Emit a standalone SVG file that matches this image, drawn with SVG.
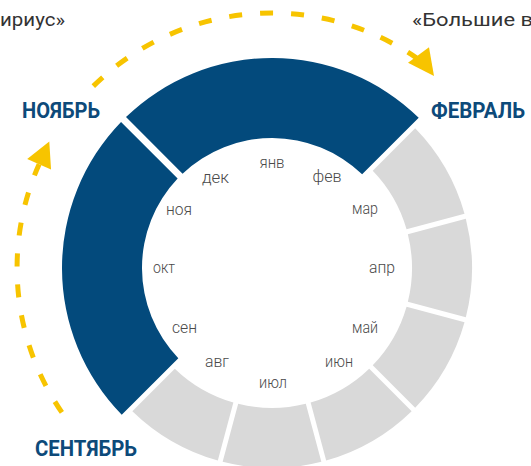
<svg xmlns="http://www.w3.org/2000/svg" width="531" height="466" viewBox="0 0 531 466">
  <style>
    .blue { fill: #034a7c; }
    .gray { fill: #d9d9d9; }
    .month { font-family: Roboto, "Noto Sans", sans-serif; font-weight: 300; font-size: 17px; fill: #4a4a4a; text-anchor: middle; }
    .season { font-family: Roboto, "Noto Sans", sans-serif; font-weight: 700; font-size: 22px; fill: #0d4a7a; }
    .caption { font-family: Roboto, "Noto Sans", sans-serif; font-weight: 400; font-size: 19px; fill: #333333; }
    .dash { fill: none; stroke: #f7c400; stroke-width: 5; stroke-dasharray: 13 18; }
    .head { fill: #f7c400; }
  </style>

  <!-- background -->
  <rect width="531" height="466" fill="#ffffff"/>

  <!-- captions cut by the frame -->
  <text class="caption" x="0" y="26" textLength="65" lengthAdjust="spacingAndGlyphs">ириус»</text>
  <text class="caption" x="412" y="26" textLength="121" lengthAdjust="spacingAndGlyphs">«Большие в</text>

  <!-- dashed season arrows -->
  <g id="connectors">
    <path id="arrow-top" class="dash" d="M93.3,86.1 A255,255 0 0 1 416.4,57.9"/>
    <polygon class="head" points="408,62.7 429,47.3 434,76"/>
    <path id="arrow-left" class="dash" d="M61.9,412.4 A255,255 0 0 1 39.1,164.3"/>
    <polygon class="head" points="51,169.6 27.2,159 49.3,141.5"/>
  </g>

  <!-- highlighted months -->
  <g id="winter">
    <path class="blue" d="M126,117.05 A210,210 0 0 1 418.71,117.75 L362.14,174.32 A130,130 0 0 0 182.58,173.63 Z"/>
  </g>
  <g id="autumn">
    <path class="blue" d="M121.75,414.71 A210,210 0 0 1 121.05,122 L177.63,178.58 A130,130 0 0 0 178.32,358.14 Z"/>
  </g>

  <!-- remaining months -->
  <g id="seg-mar"><path class="gray" d="M415.18,128.36 A200,200 0 0 1 464.52,213.83 L406.56,229.36 A140,140 0 0 0 372.75,170.79 Z"/></g>
  <g id="seg-apr"><path class="gray" d="M465.82,218.65 A200,200 0 0 1 465.82,317.35 L407.86,301.81 A140,140 0 0 0 407.86,234.19 Z"/></g>
  <g id="seg-may"><path class="gray" d="M464.52,322.17 A200,200 0 0 1 415.18,407.64 L372.75,365.21 A140,140 0 0 0 406.56,306.64 Z"/></g>
  <g id="seg-jun"><path class="gray" d="M411.64,411.18 A200,200 0 0 1 326.17,460.52 L310.64,402.56 A140,140 0 0 0 369.21,368.75 Z"/></g>
  <g id="seg-jul"><path class="gray" d="M321.35,461.82 A200,200 0 0 1 222.65,461.82 L238.19,403.86 A140,140 0 0 0 305.81,403.86 Z"/></g>
  <g id="seg-aug"><path class="gray" d="M217.83,460.52 A200,200 0 0 1 132.36,411.18 L174.79,368.75 A140,140 0 0 0 233.36,402.56 Z"/></g>

  <!-- month names -->
  <g id="months">
    <text class="month" x="272" y="168" textLength="25" lengthAdjust="spacingAndGlyphs">янв</text>
    <text class="month" x="327" y="182" textLength="29" lengthAdjust="spacingAndGlyphs">фев</text>
    <text class="month" x="365" y="214" textLength="26" lengthAdjust="spacingAndGlyphs">мар</text>
    <text class="month" x="382" y="273" textLength="26" lengthAdjust="spacingAndGlyphs">апр</text>
    <text class="month" x="365" y="333" textLength="26" lengthAdjust="spacingAndGlyphs">май</text>
    <text class="month" x="339" y="367" textLength="28" lengthAdjust="spacingAndGlyphs">июн</text>
    <text class="month" x="273" y="388" textLength="28" lengthAdjust="spacingAndGlyphs">июл</text>
    <text class="month" x="217" y="367" textLength="24" lengthAdjust="spacingAndGlyphs">авг</text>
    <text class="month" x="184.5" y="333" textLength="25" lengthAdjust="spacingAndGlyphs">сен</text>
    <text class="month" x="164" y="273" textLength="22" lengthAdjust="spacingAndGlyphs">окт</text>
    <text class="month" x="179" y="215" textLength="26" lengthAdjust="spacingAndGlyphs">ноя</text>
    <text class="month" x="215.5" y="183" textLength="27" lengthAdjust="spacingAndGlyphs">дек</text>
  </g>

  <!-- season labels -->
  <g id="label-nov"><text class="season" x="22" y="118" textLength="78" lengthAdjust="spacingAndGlyphs">НОЯБРЬ</text></g>
  <g id="label-feb"><text class="season" x="431" y="118" textLength="94" lengthAdjust="spacingAndGlyphs">ФЕВРАЛЬ</text></g>
  <g id="label-sep"><text class="season" x="35" y="456" textLength="102" lengthAdjust="spacingAndGlyphs">СЕНТЯБРЬ</text></g>
</svg>
